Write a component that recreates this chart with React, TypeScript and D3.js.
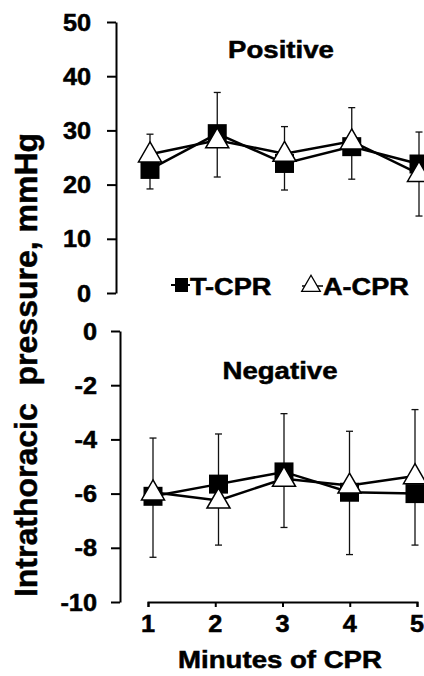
import React, { useEffect, useRef } from 'react'
import * as d3 from 'd3'

// minutes of CPR
const minutes = [1, 2, 3, 4, 5]

// positive intrathoracic pressure, mmHg (mean, sd)
const posT = [22.8, 29.4, 23.9, 27.0, 23.8]
const posTsd = [3.6, 7.6, 4.9, 6.0, 5.9]
const posA = [25.6, 28.2, 25.7, 28.0, 22.0]
const posAsd = [3.7, 6.8, 5.0, 6.2, 7.8]

// negative intrathoracic pressure, mmHg (mean, sd)
const negT = [-6.1, -5.65, -5.2, -5.95, -6.0]
const negTsd = [2.25, 1.85, 2.15, 2.3, 1.9]
const negA = [-5.95, -6.25, -5.45, -5.7, -5.35]
const negAsd = [2.0, 1.65, 1.8, 2.0, 2.45]

const posTicks = [0, 10, 20, 30, 40, 50]
const negTicks = [0, -2, -4, -6, -8, -10]

const FONT = '"Liberation Sans", Arial, sans-serif'

export default function App() {
  const ref = useRef<SVGSVGElement>(null)

  useEffect(() => {
    if (!ref.current) return
    const svg = d3.select(ref.current)
    svg.selectAll('*').remove()

    // stretched bold text, like the original figure
    const label = (x: number, y: number, txt: string, size: number, sx: number, anchor = 'middle') =>
      svg.append('text')
        .attr('transform', `translate(${x},${y}) scale(${sx},1)`)
        .attr('text-anchor', anchor)
        .attr('font-family', FONT)
        .attr('font-weight', 'bold')
        .attr('font-size', size)
        .attr('fill', '#000')
        .attr('stroke', '#000').attr('stroke-width', 0.5)
        .text(txt)

    const xAxisScale = d3.scaleLinear().domain([1, 5]).range([148, 417])

    const drawPanel = (
      y: d3.ScaleLinear<number, number>, axisX: number, ticks: number[], pad: number,
      xs: d3.ScaleLinear<number, number>,
      t: number[], tsd: number[], a: number[], asd: number[]
    ) => {
      const g = svg.append('g').attr('transform', `translate(${axisX},0)`)
      g.call(d3.axisLeft(y).tickValues(ticks).tickSize(9).tickSizeOuter(0).tickPadding(pad).tickFormat(d => String(d)))
      g.select('.domain').attr('stroke', '#000').attr('stroke-width', 2)
      g.selectAll('.tick line').attr('stroke', '#000').attr('stroke-width', 2)
      g.selectAll<SVGTextElement, number>('.tick text').each(function () {
        const x = +(this.getAttribute('x') || 0)
        d3.select(this)
          .attr('x', 0).attr('dy', null).attr('y', 8)
          .attr('transform', `translate(${x},0) scale(1.1,1)`)
          .attr('font-family', FONT).attr('font-weight', 'bold').attr('font-size', 23)
          .attr('fill', '#000').attr('stroke', '#000').attr('stroke-width', 0.5)
      })

      // error bars: the higher series whisker goes up, the lower one goes down
      const whisker = (cx: number, y0: number, y1: number) => {
        svg.append('line').attr('x1', cx).attr('x2', cx).attr('y1', y0).attr('y2', y1)
          .attr('stroke', '#111').attr('stroke-width', 1.3)
        svg.append('line').attr('x1', cx - 3.5).attr('x2', cx + 3.5)
          .attr('y1', y1).attr('y2', y1).attr('stroke', '#111').attr('stroke-width', 1.3)
      }
      minutes.forEach((m, i) => {
        const cx = xs(m)
        const tUp = t[i] >= a[i]
        whisker(cx, y(t[i]), y(tUp ? t[i] + tsd[i] : t[i] - tsd[i]))
        whisker(cx, y(a[i]), y(tUp ? a[i] - asd[i] : a[i] + asd[i]))
      })

      const line = d3.line<number>().x((_, i) => xs(minutes[i])).y(d => y(d))
      svg.append('path').attr('d', line(t)).attr('fill', 'none').attr('stroke', '#000').attr('stroke-width', 2.5)
      svg.append('path').attr('d', line(a)).attr('fill', 'none').attr('stroke', '#000').attr('stroke-width', 2.5)

      const sq = d3.symbol().type(d3.symbolSquare).size(19 * 19)
      t.forEach((v, i) => svg.append('path').attr('d', sq())
        .attr('transform', `translate(${xs(minutes[i])},${y(v)})`).attr('fill', '#000'))
      const tri = d3.symbol().type(d3.symbolTriangle).size(230)
      a.forEach((v, i) => svg.append('path').attr('d', tri())
        .attr('transform', `translate(${xs(minutes[i])},${y(v) + 1})`)
        .attr('fill', '#fff').attr('stroke', '#000').attr('stroke-width', 1.5))
    }

    // top panel: positive pressure
    const yPos = d3.scaleLinear().domain([0, 50]).range([293, 22])
    const xPos = d3.scaleLinear().domain([1, 5]).range([150, 419])
    drawPanel(yPos, 116, posTicks, 16, xPos, posT, posTsd, posA, posAsd)
    label(281, 58, 'Positive', 23, 1.2)

    // bottom panel: negative pressure
    const yNeg = d3.scaleLinear().domain([-10, 0]).range([602, 331])
    const xNeg = d3.scaleLinear().domain([1, 5]).range([153, 415])
    drawPanel(yNeg, 120, negTicks, 14, xNeg, negT, negTsd, negA, negAsd)
    label(280, 379, 'Negative', 23, 1.2)

    // x axis, detached from the y axis
    const gx = svg.append('g').attr('transform', 'translate(0,602)')
    gx.call(d3.axisBottom(xAxisScale).tickValues(minutes).tickSize(5).tickSizeOuter(5).tickFormat(d => String(d)))
    gx.select('.domain').attr('stroke', '#000').attr('stroke-width', 2)
    gx.selectAll('.tick line').attr('stroke', '#000').attr('stroke-width', 2)
    gx.selectAll('.tick text').remove()
    minutes.forEach(m => label(xAxisScale(m), 632, String(m), 23, 1.1))
    label(280, 668, 'Minutes of CPR', 23, 1.2)

    // y axis title
    svg.append('text')
      .attr('transform', 'translate(37,365) rotate(-90)')
      .attr('text-anchor', 'middle')
      .attr('font-family', FONT).attr('font-weight', 'bold').attr('font-size', 32)
      .attr('stroke', '#000').attr('stroke-width', 0.5)
      .style('white-space', 'pre')
      .text('Intrathoracic  pressure, mmHg')

    // legend
    const ly = 285
    svg.append('line').attr('x1', 171).attr('x2', 190).attr('y1', ly).attr('y2', ly).attr('stroke', '#000').attr('stroke-width', 2)
    svg.append('rect').attr('x', 175).attr('y', ly - 7).attr('width', 13).attr('height', 14).attr('fill', '#000')
    label(190, 295, 'T-CPR', 23, 1.18, 'start')
    svg.append('line').attr('x1', 302).attr('x2', 323).attr('y1', ly + 1).attr('y2', ly + 1).attr('stroke', '#000').attr('stroke-width', 1.5)
    svg.append('path').attr('d', d3.symbol().type(d3.symbolTriangle).size(150)())
      .attr('transform', `translate(311,${ly + 1})`).attr('fill', '#fff').attr('stroke', '#000').attr('stroke-width', 1.3)
    label(323, 295, 'A-CPR', 23, 1.18, 'start')
  }, [])

  return (
    <svg ref={ref} width={424} height={676}
      style={{ position: 'absolute', left: 0, top: 0, background: '#fff' }} />
  )
}
